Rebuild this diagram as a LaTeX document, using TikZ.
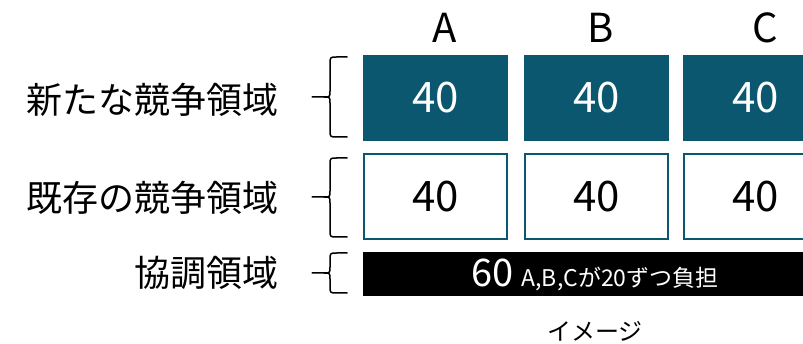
\documentclass[tikz,border=0pt]{standalone}
\usepackage{fontspec}
\setmainfont{Noto Sans CJK JP}
\definecolor{teal}{HTML}{0B5770}
\newcommand\px[1]{\fontsize{#1}{#1}\selectfont}
% left curly brace: top y, tip y, bottom y
\newcommand\areabrace[3]{%
  \draw[bracestroke]
    (347,#1) -- (337,#1) .. controls (330,#1) .. (330,{#1+7}) -- (330,{#2-6})
    .. controls (330,#2) .. (324,#2) -- (312,#2);
  \draw[bracestroke]
    (324,#2) .. controls (330,#2) .. (330,{#2+6}) -- (330,{#3-7})
    .. controls (330,#3) .. (337,#3) -- (347,#3);
}
\begin{document}
\begin{tikzpicture}[x=1pt,y=-1pt,
  bracestroke/.style={line width=1.5pt,black,line cap=round,line join=round},
  newbox/.style={fill=teal,text=white,minimum width=145pt,minimum height=86pt,inner sep=0pt,font=\px{42}},
  oldbox/.style={draw=teal,line width=2pt,fill=white,text=black,minimum width=143pt,minimum height=85pt,inner sep=0pt,font=\px{42}},
  sharebar/.style={fill=black,minimum width=467pt,minimum height=44pt,inner sep=0pt},
  rowlabel/.style={anchor=east,inner sep=0pt,font=\px{36}},
  collabel/.style={inner sep=0pt,font=\px{40}}]
\useasboundingbox (0,0) rectangle (803,344);
\clip (0,0) rectangle (803,344);

% column headings
\node[collabel] (hA) at (445,27.5) {A};
\node[collabel] (hB) at (601,27.5) {B};
\node[collabel] (hC) at (765,27.5) {C};

% new competitive area
\node[newbox] (nA) at (435.5,98) {40};
\node[newbox] (nB) at (596.5,98) {40};
\node[newbox] (nC) at (755.5,98) {40};

% existing competitive area
\node[oldbox] (oA) at (435.5,196.5) {40};
\node[oldbox] (oB) at (596.5,196.5) {40};
\node[oldbox] (oC) at (755.5,196.5) {40};

% cooperative area
\node[sharebar] (bar) at (596.5,274) {};
\node[anchor=base,inner sep=0pt,text=white] (barText) at (595,287)
  {{\px{38}60}\hspace{8pt}{\px{23}A,B,Cが20ずつ負担}};

% row labels
\node[rowlabel] (lNew) at (279,100) {新たな競争領域};
\node[rowlabel] (lOld) at (279,198) {既存の競争領域};
\node[rowlabel] (lCoop) at (279,273) {協調領域};

% braces
\areabrace{57}{97}{137}
\areabrace{158}{197}{237}
\areabrace{253}{273}{293}

% caption
\node[inner sep=0pt,font=\px{24}] (cap) at (595,331) {イメージ};
\end{tikzpicture}
\end{document}
